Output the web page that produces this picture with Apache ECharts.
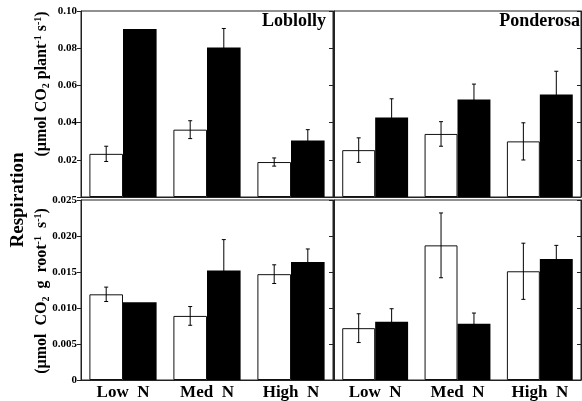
<!DOCTYPE html>
<html>
<head>
    <meta charset="utf-8">
    <script src="https://cdn.jsdelivr.net/npm/echarts@6/dist/echarts.min.js"></script>
</head>
<body style="margin:0;background:#fff;">
    <div id="main" style="width: 582px;height:401px;"></div>
    <script type="text/javascript">
        var categories = ['Low  N', 'Med  N', 'High  N'];

        // top row: per plant
        var loblollyPlantWhite = [0.0232, 0.0362, 0.0188];
        var loblollyPlantWhiteErr = [0.0041, 0.0048, 0.0022];
        var loblollyPlantBlack = [0.0903, 0.0804, 0.0304];
        var loblollyPlantBlackErr = [0, 0.0102, 0.0058];

        var ponderosaPlantWhite = [0.0252, 0.0339, 0.0299];
        var ponderosaPlantWhiteErr = [0.0066, 0.0066, 0.0100];
        var ponderosaPlantBlack = [0.0427, 0.0524, 0.0551];
        var ponderosaPlantBlackErr = [0.0101, 0.0083, 0.0125];

        // bottom row: per g root
        var loblollyRootWhite = [0.0119, 0.0089, 0.0147];
        var loblollyRootWhiteErr = [0.0010, 0.0013, 0.0013];
        var loblollyRootBlack = [0.0108, 0.0152, 0.0164];
        var loblollyRootBlackErr = [0, 0.0043, 0.0018];

        var ponderosaRootWhite = [0.0072, 0.0187, 0.0151];
        var ponderosaRootWhiteErr = [0.0020, 0.0045, 0.0039];
        var ponderosaRootBlack = [0.0081, 0.0078, 0.0168];
        var ponderosaRootBlackErr = [0.0018, 0.0015, 0.0019];

        var serif = 'Liberation Serif';
        var myChart = echarts.init(document.getElementById('main'));

        var grids = [
            { left: 81, top: 11, width: 252, height: 186 },
            { left: 334, top: 11, width: 247, height: 186 },
            { left: 81, top: 200, width: 252, height: 185 },
            { left: 334, top: 200, width: 247, height: 185 }
        ];

        function errData(vals, errs) {
            var res = [];
            for (var i = 0; i < vals.length; i++) {
                res.push([i, vals[i], errs[i]]);
            }
            return res;
        }

        function errRender(side) {
            return function (params, api) {
                var err = api.value(2);
                if (!err) return;
                var idx = api.value(0), v = api.value(1);
                var c = api.coord([idx, v]);
                var cw = api.size([1, 0])[0];
                var x = c[0] + side * cw * 0.2;
                var top = api.coord([idx, v + err])[1];
                var bot = api.coord([idx, v - err])[1];
                var st = { stroke: '#000', lineWidth: 1 };
                return {
                    type: 'group',
                    children: [
                        { type: 'line', shape: { x1: x, y1: top, x2: x, y2: bot }, style: st },
                        { type: 'line', shape: { x1: x - 2, y1: top, x2: x + 2, y2: top }, style: st },
                        { type: 'line', shape: { x1: x - 2, y1: bot, x2: x + 2, y2: bot }, style: st }
                    ]
                };
            };
        }

        var panels = [
            [loblollyPlantWhite, loblollyPlantWhiteErr, loblollyPlantBlack, loblollyPlantBlackErr],
            [ponderosaPlantWhite, ponderosaPlantWhiteErr, ponderosaPlantBlack, ponderosaPlantBlackErr],
            [loblollyRootWhite, loblollyRootWhiteErr, loblollyRootBlack, loblollyRootBlackErr],
            [ponderosaRootWhite, ponderosaRootWhiteErr, ponderosaRootBlack, ponderosaRootBlackErr]
        ];

        var xAxes = [], yAxes = [], series = [];
        var nameRich = {
            b: { fontFamily: serif, fontWeight: 'bold', fontSize: 16, fill: '#000', color: '#000' },
            sub: { fontFamily: serif, fontWeight: 'bold', fontSize: 10, fill: '#000', color: '#000', verticalAlign: 'bottom', padding: [8, 0, 0, 0] },
            sup: { fontFamily: serif, fontWeight: 'bold', fontSize: 10, fill: '#000', color: '#000', verticalAlign: 'top', padding: [0, 0, 8, 0] }
        };

        for (var p = 0; p < 4; p++) {
            var isTop = p < 2, isLeft = p % 2 === 0;
            xAxes.push({
                type: 'category', gridIndex: p, data: categories,
                axisLine: { show: true, lineStyle: { color: '#222' } },
                axisTick: { show: false },
                axisLabel: {
                    show: !isTop, margin: 4, color: '#000',
                    fontFamily: serif, fontWeight: 'bold', fontSize: 17
                }
            });
            var yBase = {
                type: 'value', gridIndex: p, min: 0,
                max: isTop ? 0.1 : 0.025,
                interval: isTop ? 0.02 : 0.005,
                splitLine: { show: false },
                axisLine: { show: true, lineStyle: { color: '#222' } }
            };
            yAxes.push(Object.assign({}, yBase, {
                position: 'left',
                axisTick: { show: true, inside: false, length: 4, lineStyle: { color: '#222' } },
                axisLabel: {
                    show: isLeft, margin: 4, color: '#000',
                    fontFamily: serif, fontWeight: 'bold', fontSize: 11,
                    formatter: function (top) {
                        return function (v) {
                            if (top) return v === 0 ? '' : v.toFixed(2);
                            return v === 0 ? '0' : v.toFixed(3);
                        };
                    }(isTop)
                }
            }));
            yAxes.push(Object.assign({}, yBase, {
                position: 'right',
                axisTick: { show: true, inside: true, length: 4, lineStyle: { color: '#222' } },
                axisLabel: { show: false }
            }));

            var d = panels[p];
            series.push({
                type: 'bar', xAxisIndex: p, yAxisIndex: p * 2, data: d[0],
                barGap: '0%', barCategoryGap: '20%',
                itemStyle: { color: '#fff', borderColor: '#111', borderWidth: 1 },
                animation: false
            });
            series.push({
                type: 'bar', xAxisIndex: p, yAxisIndex: p * 2, data: d[2],
                barGap: '0%', barCategoryGap: '20%',
                itemStyle: { color: '#000' },
                animation: false
            });
            series.push({
                type: 'custom', xAxisIndex: p, yAxisIndex: p * 2,
                data: errData(d[0], d[1]), renderItem: errRender(-1),
                encode: { x: 0, y: 1 }, z: 5, animation: false
            });
            series.push({
                type: 'custom', xAxisIndex: p, yAxisIndex: p * 2,
                data: errData(d[2], d[3]), renderItem: errRender(1),
                encode: { x: 0, y: 1 }, z: 5, animation: false
            });
        }

        var option = {
            backgroundColor: '#fff',
            grid: grids.map(function (g) {
                return Object.assign({ show: true, borderColor: '#222', borderWidth: 1, backgroundColor: 'transparent' }, g);
            }),
            xAxis: xAxes,
            yAxis: yAxes,
            graphic: [
                {
                    type: 'text', x: 18, y: 200, rotation: Math.PI / 2,
                    style: { text: 'Respiration', fill: '#000', font: 'bold 19px "Liberation Serif"', textAlign: 'center', textVerticalAlign: 'middle' }
                },
                {
                    type: 'text', x: 42, y: 84, rotation: Math.PI / 2,
                    style: {
                        text: '{b|(µmol CO}{sub|2}{b| plant}{sup|-1}{b| s}{sup|-1}{b|)}',
                        rich: nameRich, textAlign: 'center', textVerticalAlign: 'middle'
                    }
                },
                {
                    type: 'text', x: 42, y: 291, rotation: Math.PI / 2,
                    style: {
                        text: '{b|(µmol  CO}{sub|2}{b|  g  root}{sup|-1}{b|  s}{sup|-1}{b|)}',
                        rich: nameRich, textAlign: 'center', textVerticalAlign: 'middle'
                    }
                },
                {
                    type: 'text', x: 326, y: 21,
                    style: { text: 'Loblolly', fill: '#000', font: 'bold 18px "Liberation Serif"', textAlign: 'right', textVerticalAlign: 'middle' }
                },
                {
                    type: 'text', x: 580, y: 21,
                    style: { text: 'Ponderosa', fill: '#000', font: 'bold 18px "Liberation Serif"', textAlign: 'right', textVerticalAlign: 'middle' }
                }
            ],
            series: series
        };

        myChart.setOption(option);
    </script>
</body>
</html>
